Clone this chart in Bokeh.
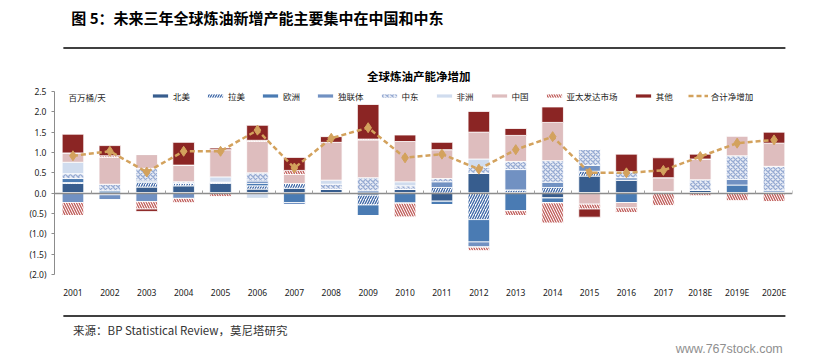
from bokeh.plotting import figure
from bokeh.models import (ColumnDataSource, Range1d, LinearAxis, FixedTicker, Legend, LegendItem,
                          Label, CustomJSTickFormatter)
from bokeh.layouts import column
from bokeh.embed import file_html
from bokeh.resources import INLINE

# ---------------- data (million barrels / day) ----------------
years = ["2001", "2002", "2003", "2004", "2005", "2006", "2007", "2008", "2009", "2010",
         "2011", "2012", "2013", "2014", "2015", "2016", "2017", "2018E", "2019E", "2020E"]

north_america = [0.24, -0.04, 0.15, 0.18, 0.24, 0.10, 0.12, 0.10, -0.05, 0.10,
                 -0.20, 0.49, 0.00, -0.12, 0.42, 0.32, 0.00, 0.07, 0.00, 0.00]
latin_america = [0.02, 0.00, 0.11, 0.06, 0.03, 0.08, 0.12, 0.00, -0.24, 0.00,
                 0.14, -0.65, 0.08, 0.14, 0.12, 0.00, 0.00, 0.00, 0.00, 0.00]
europe = [0.10, 0.06, 0.04, 0.00, 0.00, 0.06, -0.23, 0.00, -0.26, -0.25,
          -0.09, -0.55, -0.43, -0.12, 0.00, -0.23, 0.00, 0.00, 0.20, 0.00]
cis = [-0.23, -0.13, -0.21, -0.13, 0.00, 0.06, -0.05, -0.05, 0.06, 0.00,
       0.14, -0.13, 0.50, 0.13, 0.14, 0.06, 0.00, 0.00, 0.14, 0.06]
middle_east = [0.12, 0.16, 0.31, 0.04, 0.00, 0.20, 0.00, 0.12, 0.32, 0.08,
               0.08, 0.15, 0.20, 0.53, 0.40, 0.15, 0.04, 0.26, 0.58, 0.60]
africa = [0.28, 0.00, 0.00, 0.00, 0.13, -0.13, 0.00, 0.10, 0.00, 0.10,
          0.00, 0.20, 0.00, 0.00, 0.00, 0.00, 0.00, 0.00, 0.00, 0.00]
china = [0.23, 0.66, 0.34, 0.41, 0.67, 0.77, 0.22, 0.93, 0.93, 0.99,
         0.71, 0.66, 0.64, 0.94, -0.27, -0.13, 0.34, 0.51, 0.49, 0.57]
apac_developed = [-0.32, 0.04, -0.18, -0.11, -0.09, 0.03, 0.10, 0.00, 0.02, -0.34,
                  0.00, -0.09, -0.12, -0.50, -0.12, -0.12, -0.31, -0.07, -0.19, -0.21]
others = [0.46, 0.25, -0.06, 0.56, 0.04, 0.37, 0.32, 0.14, 0.85, 0.16,
          0.18, 0.51, 0.17, 0.38, -0.20, 0.43, 0.49, 0.12, 0.00, 0.27]
net_total = [0.92, 1.03, 0.52, 1.03, 1.03, 1.55, 0.62, 1.35, 1.61, 0.87,
             0.96, 0.59, 1.07, 1.39, 0.50, 0.50, 0.56, 0.90, 1.23, 1.31]

series_names = ["北美", "拉美", "欧洲", "独联体", "中东", "非洲", "中国", "亚太发达市场", "其他"]
series_values = [north_america, latin_america, europe, cis, middle_east, africa, china,
                 apac_developed, others]
total_name = "合计净增加"
y_ticks = [-2.0, -1.5, -1.0, -0.5, 0.0, 0.5, 1.0, 1.5, 2.0, 2.5]

doc_title = "图 5：未来三年全球炼油新增产能主要集中在中国和中东"
chart_title = "全球炼油产能净增加"
unit_text = "百万桶/天"
source_text = "来源：BP Statistical Review，莫尼塔研究"
watermark = "www.767stock.com"

# ---------------- styles ----------------
CJK = "Noto Sans CJK SC"
W = 833
fills = ["#375D8E", "white", "#4A7BB3", "#7191C2", "#E9EDF6", "#D0DCEE", "#DEBDBE", "white", "#8B2524"]
hatches = [None, "/", None, None, "x", None, None, "\\", None]
hatch_cols = ["black", "#3C66A6", "black", "black", "#98ACD3", "black", "black", "#BF5C59", "black"]
LINE_COL = "#D3A25D"

# ---------------- header (page y 0..84) ----------------
hdr = figure(width=W, height=84, x_range=Range1d(0, W), y_range=Range1d(84, 0),
             x_axis_location=None, y_axis_location=None, toolbar_location=None,
             output_backend="svg", min_border=0, outline_line_color=None)
hdr.grid.visible = False
hdr.add_layout(Label(x=19, y=17, text=doc_title, text_baseline="middle", text_font=CJK,
                     text_font_size="15px", text_font_style="bold", text_color="black"))
hdr.segment(x0=[10], y0=[47.5], x1=[825], y1=[47.5], line_color="black", line_width=1.3)
hdr.add_layout(Label(x=411, y=75, text=chart_title, text_align="center", text_baseline="middle",
                     text_font=CJK, text_font_size="11.5px", text_font_style="bold",
                     text_color="black"))

# ---------------- main chart (page y 84..300) ----------------
xpos = list(range(1, len(years) + 1))
data = {"x": xpos, "year": years, "total": net_total}
pos_keys, neg_keys = [], []
for i, vals in enumerate(series_values):
    data[f"p{i}"] = [v if v > 0 else 0.0 for v in vals]
    data[f"n{i}"] = [v if v < 0 else 0.0 for v in vals]
    pos_keys.append(f"p{i}")
    neg_keys.append(f"n{i}")
src = ColumnDataSource(data)

p = figure(width=W, height=216, x_range=Range1d(0.5, len(years) + 0.5),
           y_range=Range1d(-2.0, 2.5), x_axis_location=None, y_axis_location=None,
           toolbar_location=None, output_backend="svg",
           min_border_left=54, min_border_right=41, min_border_top=7, min_border_bottom=23,
           outline_line_color=None)
p.grid.visible = False

bar_kw = dict(x="x", width=0.585, source=src, fill_color=fills, line_color="white",
              line_width=0.8, hatch_pattern=hatches, hatch_color=hatch_cols,
              hatch_scale=5, hatch_weight=1.3)
pos_r = p.vbar_stack(pos_keys, **bar_kw)
neg_r = p.vbar_stack(neg_keys, **bar_kw)

ln = p.line("x", "total", source=src, line_color=LINE_COL, line_width=2.5, line_dash="5 3")
sc = p.scatter("x", "total", source=src, marker="diamond", size=10,
               fill_color=LINE_COL, line_color=LINE_COL)

# y axis
yax = LinearAxis(ticker=FixedTicker(ticks=y_ticks),
                 formatter=CustomJSTickFormatter(code="""
                     return tick < 0 ? "(" + (-tick).toFixed(1) + ")" : tick.toFixed(1);
                 """),
                 axis_line_color="#8C8C8C", axis_line_width=1,
                 major_tick_line_color="#8C8C8C", major_tick_out=3, major_tick_in=0,
                 minor_tick_line_color=None, major_label_standoff=5,
                 major_label_text_font="Noto Sans", major_label_text_font_size="8.5px",
                 major_label_text_color="#1A1A1A")
p.add_layout(yax, "left")

# category labels at bottom
xax = LinearAxis(ticker=FixedTicker(ticks=xpos),
                 formatter=CustomJSTickFormatter(args=dict(labels=years), code="""
                     const i = Math.round(tick) - 1;
                     return (i >= 0 && i < labels.length) ? labels[i] : "";
                 """),
                 axis_line_color=None, major_tick_line_color=None,
                 minor_tick_line_color=None, major_label_standoff=6,
                 major_label_text_font="Noto Sans", major_label_text_font_size="8.5px",
                 major_label_text_color="#1A1A1A")
p.add_layout(xax, "below")

# zero line with tick marks between categories
zax = LinearAxis(fixed_location=0,
                 ticker=FixedTicker(ticks=[i + 0.5 for i in range(len(years) + 1)]),
                 formatter=CustomJSTickFormatter(code="return '';"),
                 axis_line_color="#8C8C8C", axis_line_width=1.5,
                 major_tick_line_color="#A0A0A0", major_tick_in=3, major_tick_out=0,
                 minor_tick_line_color=None, major_label_standoff=0,
                 major_label_text_font_size="1px")
p.add_layout(zax, "below")

p.add_layout(Label(x=0.88, y=2.362, text=unit_text, text_baseline="middle",
                   text_font=CJK, text_font_size="8.5px", text_color="#1F1F1F"))

items = [LegendItem(label=n, renderers=[r]) for n, r in zip(series_names, pos_r)]
items.append(LegendItem(label=total_name, renderers=[ln, sc]))
legend = Legend(items=items, orientation="horizontal", location=(96, 171),
                glyph_width=20, glyph_height=5, label_standoff=3, spacing=15,
                padding=0, margin=0, label_width=0, label_height=15,
                label_text_font=CJK, label_text_font_size="8.5px", label_text_color="#1A1A1A",
                border_line_color=None, background_fill_alpha=0)
p.add_layout(legend)

# ---------------- footer (page y 300..363) ----------------
ftr = figure(width=W, height=63, x_range=Range1d(0, W), y_range=Range1d(63, 0),
             x_axis_location=None, y_axis_location=None, toolbar_location=None,
             output_backend="svg", min_border=0, outline_line_color=None)
ftr.grid.visible = False
ftr.segment(x0=[10], y0=[15.5], x1=[825], y1=[15.5], line_color="black", line_width=1.3)
ftr.add_layout(Label(x=21, y=29, text=source_text, text_baseline="middle", text_font=CJK,
                     text_font_size="11.5px", text_color="#333333"))
ftr.add_layout(Label(x=822, y=48, text=watermark, text_align="right", text_baseline="middle",
                     text_font="Liberation Sans", text_font_size="12.5px", text_color="#8F8F8F"))

layout = column(hdr, p, ftr, spacing=0)
open("out.html", "w").write(file_html(layout, INLINE))
